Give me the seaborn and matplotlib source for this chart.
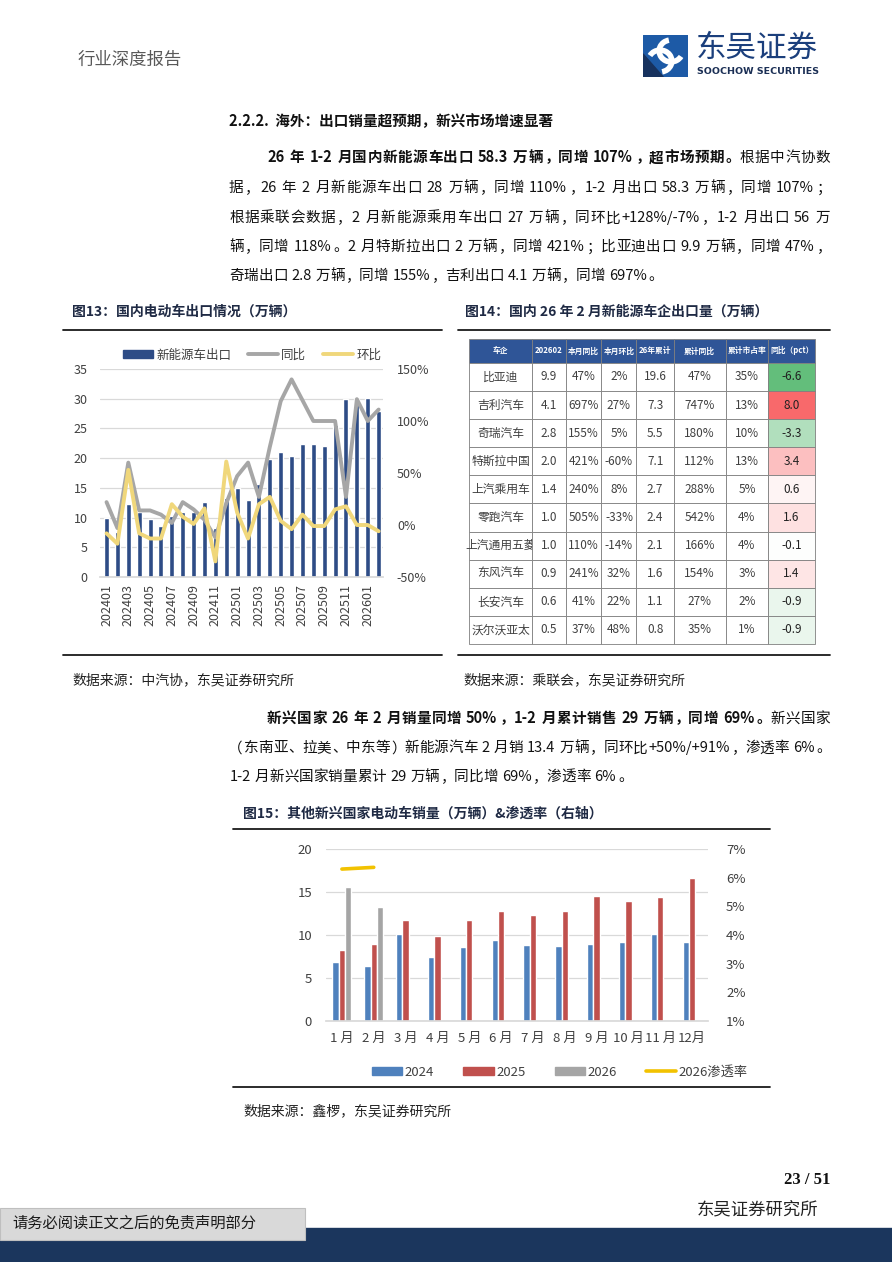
import numpy as np
import pandas as pd
import matplotlib
matplotlib.use("Agg")
import matplotlib.pyplot as plt
import seaborn as sns
from matplotlib.patches import Rectangle, Patch, Arc, Polygon
from matplotlib.lines import Line2D
from matplotlib.colors import LinearSegmentedColormap, TwoSlopeNorm

# ---------------- data ----------------
# 图13 国内电动车出口情况（万辆）
months13 = ["202401", "202402", "202403", "202404", "202405", "202406", "202407",
            "202408", "202409", "202410", "202411", "202412", "202501", "202502",
            "202503", "202504", "202505", "202506", "202507", "202508", "202509",
            "202510", "202511", "202512", "202601", "202602"]
nev_export = [10.0, 7.6, 12.3, 10.9, 9.8, 8.5, 10.2, 10.9, 10.9, 12.7, 8.2, 13.3, 14.9,
              13.0, 15.7, 19.9, 21.1, 20.4, 22.4, 22.3, 22.1, 25.6, 30.0, 30.0, 30.2, 27.9]
export_yoy = [22, -3, 60, 14, 14, 10, 2, 22, 15, 5, -12, 21, 47,
              60, 27, 75, 119, 140, 120, 100, 100, 100, 27, 121, 100, 111]
export_mom = [-8, -18, 53, -8, -13, -13, 20, 8, 1, 16, -35, 61, 12,
              -13, 20, 27, 4, -4, 10, -1, -1, 15, 18, 0, 0, -6]

# 图14 国内26年2月新能源车企出口量（万辆）
headers14 = ["车企", "202602", "本月同比", "本月环比", "26年累计", "累计同比", "累计市占率", "同比（pct）"]
makers = ["比亚迪", "吉利汽车", "奇瑞汽车", "特斯拉中国", "上汽乘用车",
          "零跑汽车", "上汽通用五菱", "东风汽车", "长安汽车", "沃尔沃亚太"]
feb_volume = [9.9, 4.1, 2.8, 2.0, 1.4, 1.0, 1.0, 0.9, 0.6, 0.5]
feb_yoy = [47, 697, 155, 421, 240, 505, 110, 241, 41, 37]
feb_mom = [2, 27, 5, -60, 8, -33, -14, 32, 22, 48]
ytd_volume = [19.6, 7.3, 5.5, 7.1, 2.7, 2.4, 2.1, 1.6, 1.1, 0.8]
ytd_yoy = [47, 747, 180, 112, 288, 542, 166, 154, 27, 35]
ytd_share = [35, 13, 10, 13, 5, 4, 4, 3, 2, 1]
share_change = [-6.6, 8.0, -3.3, 3.4, 0.6, 1.6, -0.1, 1.4, -0.9, -0.9]

# 图15 其他新兴国家电动车销量（万辆）&渗透率
months15 = ["1 月", "2 月", "3 月", "4 月", "5 月", "6 月", "7 月", "8 月",
            "9 月", "10 月", "11 月", "12月"]
sales_2024 = [6.9, 6.4, 10.1, 7.4, 8.6, 9.4, 8.8, 8.7, 9.0, 9.2, 10.1, 9.2]
sales_2025 = [8.2, 8.9, 11.8, 9.9, 11.8, 12.8, 12.3, 12.8, 14.5, 14.0, 14.4, 16.6]
sales_2026 = [15.6, 13.3]
penetration_2026 = [6.30, 6.36]

# ---------------- page setup ----------------
W, H = 892, 1262
sns.set_theme(style="white")
plt.rcParams["font.family"] = ["Noto Sans CJK SC", "DejaVu Sans"]
plt.rcParams["axes.unicode_minus"] = False

fig = plt.figure(figsize=(W / 100, H / 100), dpi=100)
fig.patch.set_facecolor("white")
renderer = fig.canvas.get_renderer()


def rect(x0, y0, x1, y1):
    return [x0 / W, 1 - y1 / H, (x1 - x0) / W, (y1 - y0) / H]


def ftext(x, y, s, **kw):
    return fig.text(x / W, 1 - y / H, s, **kw)


def hline(x0, x1, y, lw=1.3, color="#1a1a1a"):
    fig.add_artist(Line2D([x0 / W, x1 / W], [1 - y / H] * 2, color=color, lw=lw))


def text_line(segs, x0, y, x1=None, size=10.5, color="#111111"):
    """draw one line of mixed bold/normal text, optionally justified to x1"""
    em = size * 100 / 72
    tokens = []
    for s, bold in segs:
        run = ""
        for ch in s + "\0":
            ascii_ch = ch != "\0" and ch != " " and ord(ch) < 0x2E80
            if ascii_ch:
                run += ch
                continue
            if run:
                tokens.append(("a", run, bold))
                run = ""
            if ch == " ":
                tokens.append(("g", None, bold))
            elif ch != "\0":
                tokens.append(("c", ch, bold))
    items = []
    for kind, s, bold in tokens:
        if kind == "g":
            items.append((kind, None, 0.22 * em))
            continue
        t = fig.text(0, 0, s, fontsize=size, color=color,
                     fontweight="bold" if bold else "normal", va="baseline")
        if kind == "c":
            items.append((kind, t, em))
        else:
            w = t.get_window_extent(renderer).width
            items.append((kind, t, w + 0.1 * em))
    total = sum(w for _, _, w in items)
    extra = 0
    if x1 is not None and len(items) > 1:
        extra = (x1 - x0 - total) / (len(items) - 1)
    x = x0
    yb = 1 - (y + 0.36 * em) / H
    for kind, t, w in items:
        if t is not None:
            ch = t.get_text()
            if kind == "a":
                t.set_ha("left")
                t.set_position(((x + 0.05 * em) / W, yb))
            elif ch in "，。；：、）":
                t.set_ha("left")
                t.set_position(((x + 0.08 * em) / W, yb))
            elif ch == "（":
                t.set_ha("right")
                t.set_position(((x + 0.92 * em) / W, yb))
            else:
                t.set_ha("center")
                t.set_position(((x + 0.5 * em) / W, yb))
        x += w + extra


# ---------------- header ----------------
ftext(78, 60, "行业深度报告", fontsize=12.5, color="#595959", va="center")

logo = fig.add_axes(rect(643, 35, 688, 77))
logo.set_xlim(0, 1)
logo.set_ylim(0, 1)
logo.axis("off")
logo.add_patch(Rectangle((0, 0), 1, 1, color="#1D5AA6"))
logo.add_patch(Polygon([(0, 0), (0, 0.55), (0.45, 0)], color="#17325E"))
logo.add_patch(Arc((0.62, 0.62), 0.52, 0.52, theta1=100, theta2=330, color="white", lw=4))
logo.add_patch(Arc((0.38, 0.38), 0.52, 0.52, theta1=280, theta2=150, color="white", lw=4))
ftext(696, 48, "东吴证券", fontsize=22, color="#1B3F7C", va="center")
ftext(697, 71, "SOOCHOW SECURITIES", fontsize=6.8, color="#1B2F55",
      fontweight="bold", va="center", family=["DejaVu Sans"])

# ---------------- section heading and paragraph 1 ----------------
ftext(229, 121, "2.2.2.  海外：出口销量超预期，新兴市场增速显著",
      fontsize=10.5, fontweight="bold", color="#111111", va="center")

text_line([("26 年 1-2 月国内新能源车出口 58.3 万辆，同增 107%，超市场预期。", True),
           ("根据中汽协数", False)], 267, 157, 830)
text_line([("据，26 年 2 月新能源车出口 28 万辆，同增 110%，1-2 月出口 58.3 万辆，同增 107%；", False)],
          229, 187, 830)
text_line([("根据乘联会数据，2 月新能源乘用车出口 27 万辆，同环比+128%/-7%，1-2 月出口 56 万", False)],
          229, 217, 830)
text_line([("辆，同增 118%。2 月特斯拉出口 2 万辆，同增 421%；比亚迪出口 9.9 万辆，同增 47%，", False)],
          229, 246, 830)
text_line([("奇瑞出口 2.8 万辆，同增 155%，吉利出口 4.1 万辆，同增 697%。", False)], 229, 275)

# ---------------- chart titles / rules ----------------
title_color = "#1F2A44"
ftext(72, 312, "图13：国内电动车出口情况（万辆）", fontsize=10, fontweight="bold",
      color=title_color, va="center")
ftext(465, 312, "图14：国内 26 年 2 月新能源车企出口量（万辆）", fontsize=10, fontweight="bold",
      color=title_color, va="center")
hline(63, 442, 330)
hline(458, 830, 330)
hline(63, 442, 655)
hline(458, 830, 655)
ftext(72, 680, "数据来源：中汽协，东吴证券研究所", fontsize=10, color="#222222", va="center")
ftext(463, 680, "数据来源：乘联会，东吴证券研究所", fontsize=10, color="#222222", va="center")

# ---------------- 图13 ----------------
tick_color = "#404040"
ax = fig.add_axes(rect(100, 369, 383, 577))
sns.barplot(x=months13, y=nev_export, color="#2E4C86", width=0.46, saturation=1, ax=ax)
pos13 = np.arange(len(months13))
ax.set_ylim(0, 35)
ax.set_yticks(range(0, 36, 5))
ax.yaxis.grid(True, color="#D9D9D9", lw=0.9)
ax.set_axisbelow(True)
ax.set_xticks(pos13[::2])
ax.set_xticklabels(months13[::2], rotation=90)
ax.set_xlabel("")
ax.set_ylabel("")
for side in ["top", "left", "right"]:
    ax.spines[side].set_visible(False)
ax.spines["bottom"].set_color("#D9D9D9")
ax.tick_params(axis="both", length=0, labelsize=9, colors=tick_color)
ax.tick_params(axis="y", pad=9)
ax.tick_params(axis="x", pad=5)

ax2 = ax.twinx()
sns.lineplot(x=pos13, y=export_yoy, color="#A6A6A6", lw=2.8, ax=ax2)
sns.lineplot(x=pos13, y=export_mom, color="#F0D77B", lw=2.8, ax=ax2)
ax2.set_ylim(-50, 150)
ax2.set_yticks([-50, 0, 50, 100, 150])
ax2.set_yticklabels([f"{v}%" for v in [-50, 0, 50, 100, 150]])
ax2.set_ylabel("")
for side in ax2.spines:
    ax2.spines[side].set_visible(False)
ax2.tick_params(axis="y", length=0, labelsize=9, colors=tick_color, pad=10)
ax.set_xlim(-0.6, len(months13) - 0.6)

h13 = [Patch(color="#2E4C86"), Line2D([], [], color="#A6A6A6", lw=2.8),
       Line2D([], [], color="#F0D77B", lw=2.8)]
ax.legend(h13, ["新能源车出口", "同比", "环比"], loc="center",
          bbox_to_anchor=(252 / W, 1 - 355 / H), bbox_transform=fig.transFigure,
          ncol=3, frameon=False, fontsize=9, handlelength=2.4, handleheight=0.6,
          columnspacing=1.3, handletextpad=0.3, labelcolor=tick_color)

# ---------------- 图14 table ----------------
cmap = LinearSegmentedColormap.from_list("rg", ["#63BE7B", "#FFFFFF", "#F8696B"])
norm = TwoSlopeNorm(vmin=min(share_change), vcenter=0, vmax=max(share_change))
cells = []
for i in range(len(makers)):
    cells.append([makers[i], f"{feb_volume[i]:.1f}", f"{feb_yoy[i]}%", f"{feb_mom[i]}%",
                  f"{ytd_volume[i]:.1f}", f"{ytd_yoy[i]}%", f"{ytd_share[i]}%",
                  f"{share_change[i]:.1f}"])
col_w = [63.3, 33.3, 35.7, 35.0, 37.3, 51.7, 42.6, 46.7]
axt = fig.add_axes(rect(469, 339, 815, 644))
axt.axis("off")
tbl = axt.table(cellText=cells, colLabels=headers14, cellLoc="center",
                colWidths=[w / sum(col_w) for w in col_w], bbox=[0, 0, 1, 1])
tbl.auto_set_font_size(False)
for (r, c), cell in tbl.get_celld().items():
    cell.set_edgecolor("#7F7F7F")
    cell.set_linewidth(0.6)
    if r == 0:
        cell.set_height(24)
        cell.set_facecolor("#2F5597")
        cell.get_text().set_color("white")
        cell.get_text().set_fontweight("bold")
        cell.get_text().set_fontsize(5.6)
    else:
        cell.set_height(28.3)
        cell.get_text().set_color("#404040")
        cell.get_text().set_fontsize(8.5)
        if c == len(headers14) - 1:
            cell.set_facecolor(cmap(norm(share_change[r - 1])))
            cell.get_text().set_color("#222222")

# ---------------- paragraph 2 ----------------
text_line([("新兴国家 26 年 2 月销量同增 50%，1-2 月累计销售 29 万辆，同增 69%。", True),
           ("新兴国家", False)], 267, 718, 830)
text_line([("（东南亚、拉美、中东等）新能源汽车 2 月销 13.4 万辆，同环比+50%/+91%，渗透率 6%。", False)],
          229, 747, 830)
text_line([("1-2 月新兴国家销量累计 29 万辆，同比增 69%，渗透率 6%。", False)], 229, 776)

ftext(243, 814, "图15：其他新兴国家电动车销量（万辆）&渗透率（右轴）", fontsize=10,
      fontweight="bold", color=title_color, va="center")
hline(233, 770, 829)
hline(233, 770, 1087)
ftext(243, 1111, "数据来源：鑫椤，东吴证券研究所", fontsize=10, color="#222222", va="center")

# ---------------- 图15 ----------------
df15 = pd.DataFrame({
    "month": months15 * 2 + months15[:len(sales_2026)],
    "sales": sales_2024 + sales_2025 + sales_2026,
    "year": ["2024"] * 12 + ["2025"] * 12 + ["2026"] * len(sales_2026),
})
year_colors = ["#4F81BD", "#C0504D", "#A5A5A5"]
ax3 = fig.add_axes(rect(326, 849, 708, 1021))
sns.barplot(data=df15, x="month", y="sales", hue="year", order=months15,
            hue_order=["2024", "2025", "2026"], palette=year_colors, width=0.6,
            saturation=1, legend=False, ax=ax3)
ax3.set_ylim(0, 20)
ax3.set_yticks(range(0, 21, 5))
ax3.yaxis.grid(True, color="#D9D9D9", lw=0.9)
ax3.set_axisbelow(True)
ax3.set_xlabel("")
ax3.set_ylabel("")
for side in ["top", "left", "right"]:
    ax3.spines[side].set_visible(False)
ax3.spines["bottom"].set_color("#D9D9D9")
ax3.tick_params(axis="both", length=0, labelsize=9.5, colors=tick_color)
ax3.tick_params(axis="y", pad=10)
ax3.tick_params(axis="x", pad=8)

ax4 = ax3.twinx()
sns.lineplot(x=np.arange(len(penetration_2026)), y=penetration_2026, color="#F2C200",
             lw=2.6, ax=ax4)
ax4.set_ylim(1, 7)
ax4.set_yticks(range(1, 8))
ax4.set_yticklabels([f"{v}%" for v in range(1, 8)])
ax4.set_ylabel("")
for side in ax4.spines:
    ax4.spines[side].set_visible(False)
ax4.tick_params(axis="y", length=0, labelsize=9.5, colors=tick_color, pad=13)
ax3.set_xlim(-0.5, len(months15) - 0.5)

h15 = [Patch(color=c) for c in year_colors] + [Line2D([], [], color="#F2C200", lw=2.6)]
ax3.legend(h15, ["2024", "2025", "2026", "2026渗透率"], loc="center",
           bbox_to_anchor=(560 / W, 1 - 1072 / H), bbox_transform=fig.transFigure,
           ncol=4, frameon=False, fontsize=9.5, handlelength=2.3, handleheight=0.55,
           columnspacing=2.2, handletextpad=0.2, labelcolor=tick_color)

# ---------------- footer ----------------
ftext(830, 1180, "23 / 51", fontsize=12, fontweight="bold", color="#111111", ha="right",
      va="center", family=["Liberation Serif"])
ftext(818, 1209, "东吴证券研究所", fontsize=12.5, color="#222222", ha="right", va="center")
fig.add_artist(Rectangle((0, 0), 1, (H - 1228) / H, transform=fig.transFigure,
                         color="#1B365D", zorder=1))
fig.add_artist(Rectangle((0, 1 - 1240 / H), 305 / W, 32 / H, transform=fig.transFigure,
                         facecolor="#D9D9D9", edgecolor="#BFBFBF", lw=0.8, zorder=2))
ftext(12, 1223, "请务必阅读正文之后的免责声明部分", fontsize=11, color="#1a1a1a",
      va="center", zorder=3)

fig.savefig("out.png", dpi=100)
